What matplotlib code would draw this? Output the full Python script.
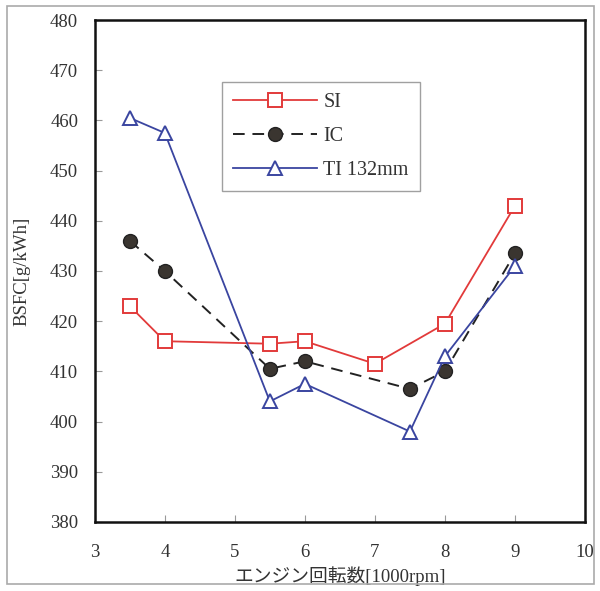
import matplotlib
matplotlib.use("Agg")
import matplotlib.pyplot as plt
from matplotlib.patches import Rectangle

# engine speed [1000 rpm]
rpm_si = [3.5, 4, 5.5, 6, 7, 8, 9]
rpm_ic = [3.5, 4, 5.5, 6, 7.5, 8, 9]
rpm_ti = [3.5, 4, 5.5, 6, 7.5, 8, 9]

# BSFC [g/kWh]
bsfc_si = [423, 416, 415.5, 416, 411.5, 419.5, 443]
bsfc_ic = [436, 430, 410.5, 412, 406.5, 410, 433.5]
bsfc_ti = [460.5, 457.5, 404, 407.5, 398, 413, 431]

plt.rcParams['font.family'] = ['Liberation Serif', 'Noto Sans CJK JP']

fig = plt.figure(figsize=(6, 5.91), dpi=100)
ax = fig.add_axes([0.158, 0.117, 0.817, 0.849])

ax.plot(rpm_si, bsfc_si, color='#e23a3a', lw=1.3, marker='s', ms=10,
        mfc='white', mec='#e23a3a', mew=1.4, label='SI')
ax.plot(rpm_ic, bsfc_ic, color='#222222', lw=1.4, ls=(0, (6, 4)), marker='o',
        ms=10, mfc='#3a3530', mec='#222222', label='IC')
ax.plot(rpm_ti, bsfc_ti, color='#3a45a0', lw=1.3, marker='^', ms=10,
        mfc='white', mec='#3a45a0', mew=1.4, label='TI 132mm')

ax.set_xlim(3, 10)
ax.set_ylim(380, 480)
ax.set_xticks(range(3, 11))
ax.set_yticks(range(380, 481, 10))
ax.tick_params(direction='in', length=5, width=0.8, color='#999999',
               labelsize=13.5, labelcolor='#333333')
ax.tick_params(axis='x', pad=16)
ax.tick_params(axis='y', pad=12)
for s in ax.spines.values():
    s.set_linewidth(1.8)
    s.set_color('#111111')

ax.set_xlabel('エンジン回転数[1000rpm]', fontsize=13.5, color='#333333', labelpad=4)
ax.set_ylabel('BSFC[g/kWh]', fontsize=13.5, color='#333333', labelpad=14)

leg = ax.legend(loc='upper left', bbox_to_anchor=(0.259, 0.877), fontsize=14.5,
                frameon=True, fancybox=False, edgecolor='#888888',
                handlelength=4.2, handletextpad=0.3, labelspacing=0.75,
                borderpad=0.55, borderaxespad=0)
leg.get_frame().set_linewidth(1.0)
for t in leg.get_texts():
    t.set_color('#333333')

# light frame around the whole figure
fig.patches.append(Rectangle((0.012, 0.012), 0.978, 0.978, transform=fig.transFigure,
                             fill=False, edgecolor='#aaaaaa', lw=1.2))

fig.savefig('out.png', dpi=100)
